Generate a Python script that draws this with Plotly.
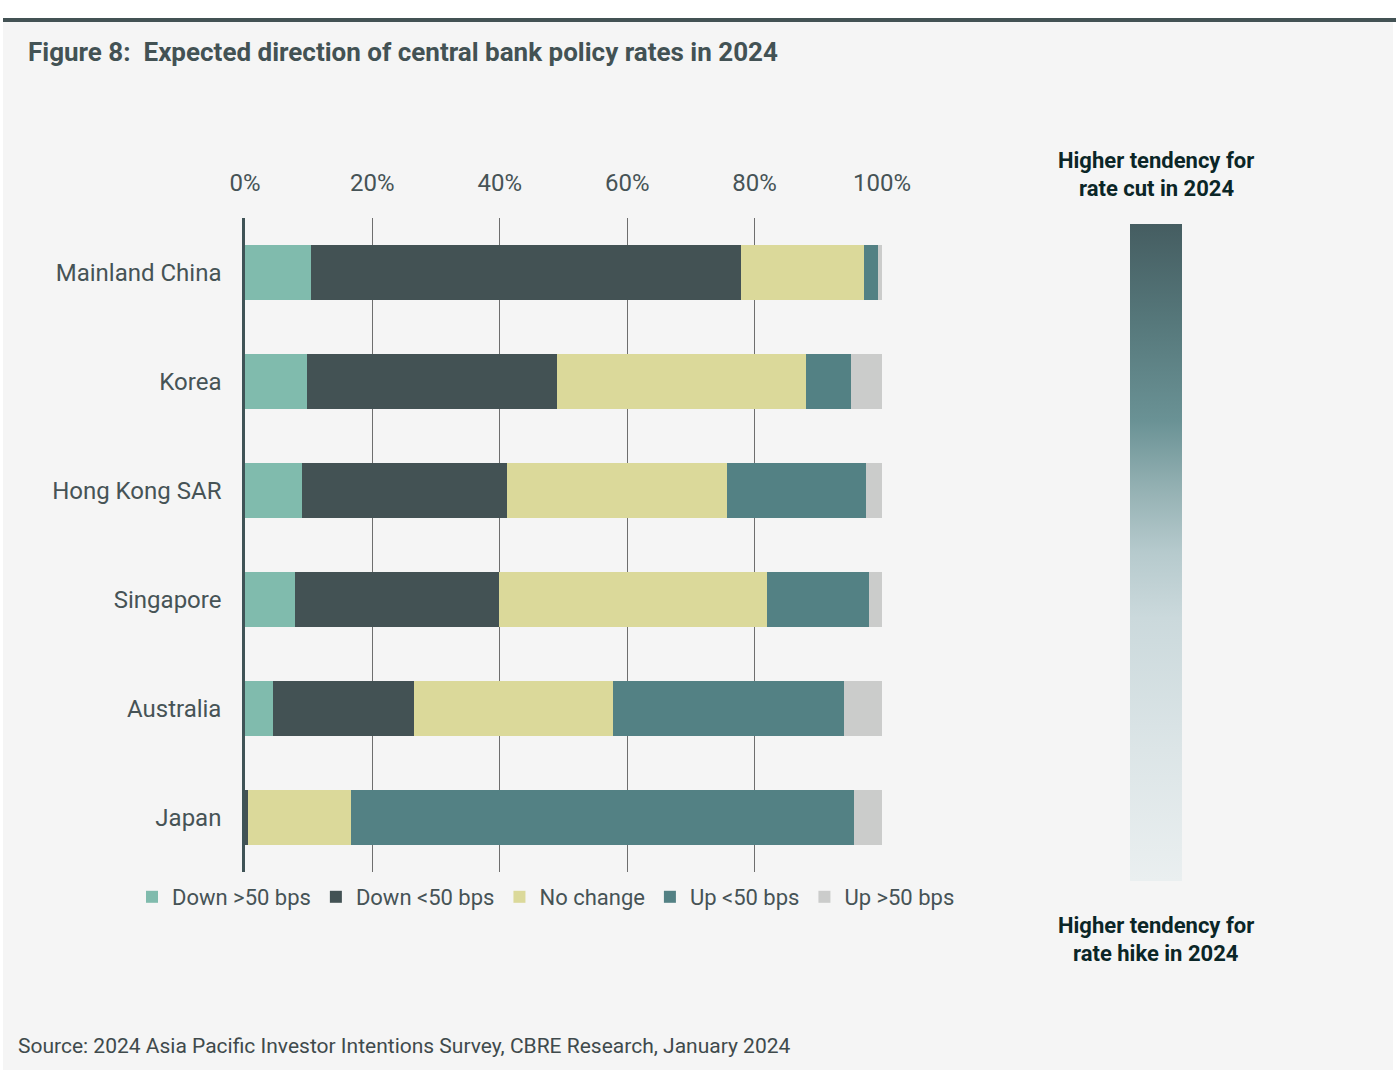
import plotly.graph_objects as go

# ---- data ----
markets = ["Mainland China", "Korea", "Hong Kong SAR", "Singapore", "Australia", "Japan"]
down_gt50 = [10.3, 9.8, 9.0, 7.9, 4.4, 0.0]
down_lt50 = [67.5, 39.2, 32.1, 32.0, 22.2, 0.5]
no_change = [19.3, 39.1, 34.5, 42.0, 31.1, 16.2]
up_lt50 = [2.2, 7.0, 21.9, 16.0, 36.3, 78.9]
up_gt50 = [0.7, 4.9, 2.5, 2.1, 6.0, 4.4]
series_names = ["Down >50 bps", "Down <50 bps", "No change", "Up <50 bps", "Up >50 bps"]
tick_vals = [0, 20, 40, 60, 80, 100]
tick_text = ["0%", "20%", "40%", "60%", "80%", "100%"]

colors = ["#80bbad", "#435254", "#dbd99a", "#538184", "#cbcccb"]

W, H = 1396, 1073
L, R, T, B = 245, 882, 218, 872  # plot area in px


def px(x):
    return (x - L) / (R - L)


def py(y):
    return (B - y) / (B - T)


fig = go.Figure()
for name, vals, col in zip(series_names, [down_gt50, down_lt50, no_change, up_lt50, up_gt50], colors):
    fig.add_trace(go.Bar(
        y=markets, x=vals, name=name, orientation="h",
        marker=dict(color=col, line=dict(width=0)),
        hoverinfo="skip",
    ))

# gradient scale (decorative) via colorbar on an invisible trace
grad = [
    [0.0, "#eaeff0"], [0.2, "#dce5e7"], [0.4, "#cbd9dc"], [0.5, "#b6cacd"],
    [0.6, "#93b0b2"], [0.7, "#6a9295"], [0.85, "#56787b"], [1.0, "#455d61"],
]
fig.add_trace(go.Scatter(
    x=[50], y=["Japan"], mode="markers", showlegend=False, hoverinfo="skip",
    marker=dict(size=1, opacity=0, color=[0.5], cmin=0, cmax=1, colorscale=grad,
                showscale=True,
                colorbar=dict(
                    x=px(1130), xanchor="left", xref="paper",
                    y=py((224 + 881) / 2), yanchor="middle", yref="paper",
                    len=881 - 224, lenmode="pixels", thickness=52, thicknessmode="pixels",
                    outlinewidth=0, showticklabels=False, ticks="", xpad=0, ypad=0,
                )),
))

font_main = "Roboto, Arial, sans-serif"
txt_col = "#465356"

fig.update_layout(
    width=W, height=H,
    margin=dict(l=L, r=W - R, t=T, b=H - B, pad=0),
    paper_bgcolor="white", plot_bgcolor="#f5f5f5",
    barmode="stack", bargap=0.5,
    font=dict(family=font_main, color=txt_col, size=22),
    xaxis=dict(
        side="top", range=[0, 100], tickvals=tick_vals, ticktext=tick_text,
        showgrid=True, gridcolor="#6e6e6e", gridwidth=1.2, zeroline=False,
        showline=False, ticks="", ticklabelstandoff=21,
        tickfont=dict(size=24, color=txt_col, family=font_main), fixedrange=True,
    ),
    yaxis=dict(
        categoryorder="array", categoryarray=markets[::-1],
        showline=True, linecolor="#3f5356", linewidth=2.5, showgrid=False,
        ticks="", ticklabelstandoff=16,
        tickfont=dict(size=24, color=txt_col, family=font_main), fixedrange=True,
    ),
    legend=dict(
        orientation="h", x=px(132), xanchor="left", y=py(897), yanchor="middle",
        font=dict(size=22, color=txt_col, family=font_main),
        bgcolor="rgba(0,0,0,0)", itemwidth=30, tracegroupgap=0, traceorder="normal",
    ),
    showlegend=True,
)

# background panel and top rule
fig.add_shape(type="rect", xref="paper", yref="paper",
              x0=px(3), x1=px(1393), y0=py(1070), y1=py(22),
              fillcolor="#f5f5f5", line=dict(width=0), layer="below")
fig.add_shape(type="line", xref="paper", yref="paper",
              x0=px(3), x1=px(1396), y0=py(20), y1=py(20),
              line=dict(color="#435254", width=4), layer="above")

# title
fig.add_annotation(text="<b>Figure 8:  Expected direction of central bank policy rates in 2024</b>",
                   xref="paper", yref="paper", x=px(26), y=py(52), xanchor="left", yanchor="middle",
                   showarrow=False, font=dict(size=26, color="#435254", family=font_main))

# right-side labels
rc = "#0b2627"
for line, yy in [("Higher tendency for", 160), ("rate cut in 2024", 188),
                 ("Higher tendency for", 925), ("rate hike in 2024", 953)]:
    fig.add_annotation(text="<b>" + line + "</b>", xref="paper", yref="paper",
                       x=px(1156), y=py(yy), xanchor="center", yanchor="middle",
                       showarrow=False, font=dict(size=22, color=rc, family=font_main))

# source
fig.add_annotation(text="Source: 2024 Asia Pacific Investor Intentions Survey, CBRE Research, January 2024",
                   xref="paper", yref="paper", x=px(16), y=py(1046), xanchor="left", yanchor="middle",
                   showarrow=False, font=dict(size=21, color="#3f4a4c", family=font_main))

fig.write_html("out.html", config={"displayModeBar": False},
               post_script="document.body.style.margin='0';document.body.style.padding='0';")
